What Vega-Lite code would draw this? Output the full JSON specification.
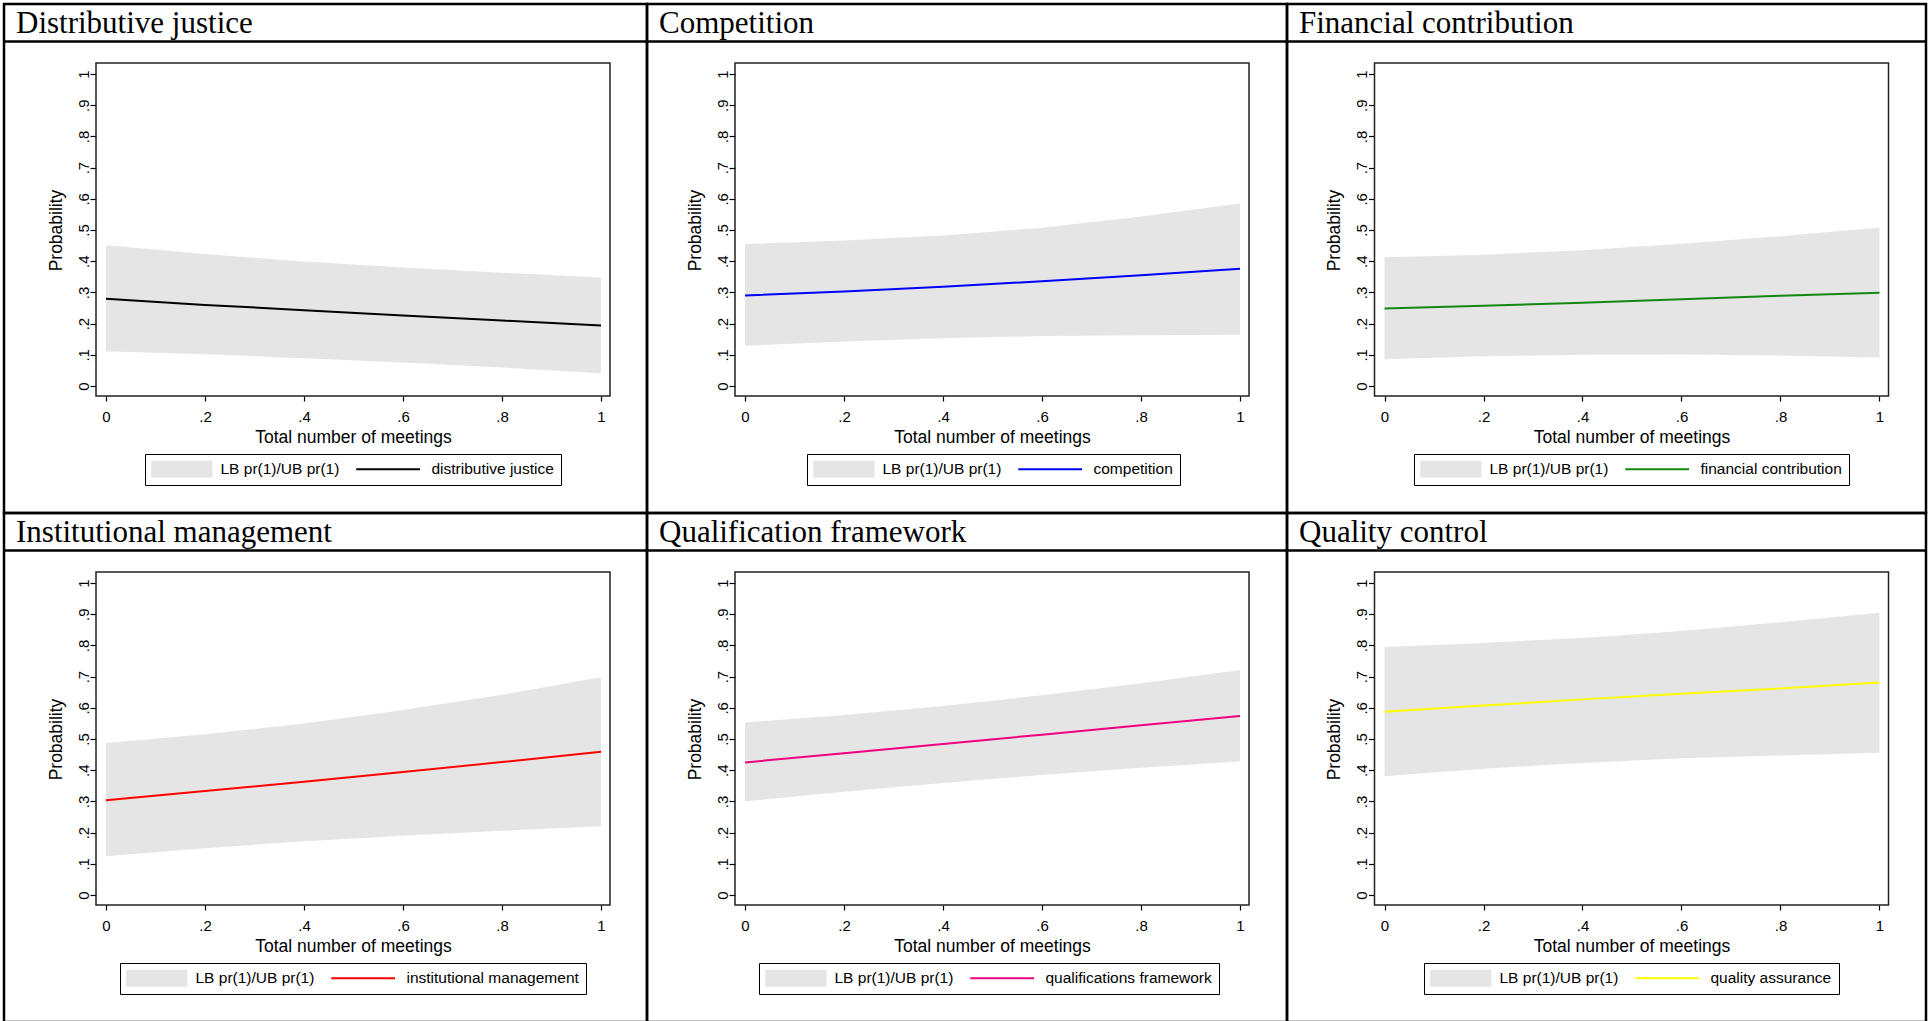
{
  "$schema": "https://vega.github.io/schema/vega-lite/v6.json",
  "background": "white",
  "padding": {"left": 1, "top": 2, "right": 0, "bottom": 0},
  "data": {"values": [
    {"panel": "P1", "x": 0, "lo": 0.111, "p": 0.280, "hi": 0.451},
    {"panel": "P1", "x": 0.2, "lo": 0.102, "p": 0.260, "hi": 0.423},
    {"panel": "P1", "x": 0.4, "lo": 0.089, "p": 0.243, "hi": 0.399},
    {"panel": "P1", "x": 0.6, "lo": 0.075, "p": 0.226, "hi": 0.380},
    {"panel": "P1", "x": 0.8, "lo": 0.059, "p": 0.210, "hi": 0.363},
    {"panel": "P1", "x": 1, "lo": 0.041, "p": 0.194, "hi": 0.348},
    {"panel": "P2", "x": 0, "lo": 0.129, "p": 0.290, "hi": 0.455},
    {"panel": "P2", "x": 0.2, "lo": 0.143, "p": 0.303, "hi": 0.466},
    {"panel": "P2", "x": 0.4, "lo": 0.153, "p": 0.318, "hi": 0.482},
    {"panel": "P2", "x": 0.6, "lo": 0.160, "p": 0.336, "hi": 0.507},
    {"panel": "P2", "x": 0.8, "lo": 0.163, "p": 0.355, "hi": 0.543},
    {"panel": "P2", "x": 1, "lo": 0.164, "p": 0.376, "hi": 0.585},
    {"panel": "P3", "x": 0, "lo": 0.086, "p": 0.248, "hi": 0.413},
    {"panel": "P3", "x": 0.2, "lo": 0.095, "p": 0.257, "hi": 0.421},
    {"panel": "P3", "x": 0.4, "lo": 0.100, "p": 0.267, "hi": 0.435},
    {"panel": "P3", "x": 0.6, "lo": 0.101, "p": 0.278, "hi": 0.456},
    {"panel": "P3", "x": 0.8, "lo": 0.098, "p": 0.289, "hi": 0.480},
    {"panel": "P3", "x": 1, "lo": 0.091, "p": 0.299, "hi": 0.508},
    {"panel": "P4", "x": 0, "lo": 0.124, "p": 0.304, "hi": 0.487},
    {"panel": "P4", "x": 0.2, "lo": 0.150, "p": 0.333, "hi": 0.515},
    {"panel": "P4", "x": 0.4, "lo": 0.172, "p": 0.363, "hi": 0.550},
    {"panel": "P4", "x": 0.6, "lo": 0.190, "p": 0.394, "hi": 0.593},
    {"panel": "P4", "x": 0.8, "lo": 0.206, "p": 0.426, "hi": 0.642},
    {"panel": "P4", "x": 1, "lo": 0.220, "p": 0.459, "hi": 0.698},
    {"panel": "P5", "x": 0, "lo": 0.300, "p": 0.425, "hi": 0.553},
    {"panel": "P5", "x": 0.2, "lo": 0.331, "p": 0.454, "hi": 0.577},
    {"panel": "P5", "x": 0.4, "lo": 0.359, "p": 0.484, "hi": 0.606},
    {"panel": "P5", "x": 0.6, "lo": 0.385, "p": 0.514, "hi": 0.640},
    {"panel": "P5", "x": 0.8, "lo": 0.408, "p": 0.544, "hi": 0.679},
    {"panel": "P5", "x": 1, "lo": 0.428, "p": 0.574, "hi": 0.721},
    {"panel": "P6", "x": 0, "lo": 0.381, "p": 0.587, "hi": 0.795},
    {"panel": "P6", "x": 0.2, "lo": 0.405, "p": 0.607, "hi": 0.808},
    {"panel": "P6", "x": 0.4, "lo": 0.423, "p": 0.627, "hi": 0.824},
    {"panel": "P6", "x": 0.6, "lo": 0.438, "p": 0.645, "hi": 0.846},
    {"panel": "P6", "x": 0.8, "lo": 0.447, "p": 0.662, "hi": 0.874},
    {"panel": "P6", "x": 1, "lo": 0.456, "p": 0.681, "hi": 0.905}
  ]},
  "concat": [
        {
          "width": 643, "height": 509,
          "layer": [
            {
              "transform": [{"filter": "datum.panel === 'P1'"}],
              "mark": {"type": "area"},
              "encoding": {
                "x": {"field": "x", "type": "quantitative", "scale": {"domain": [-0.20606, 1.09293], "nice": false, "zero": false},
                      "axis": {"offset": -117, "values": [0, 0.2, 0.4, 0.6, 0.8, 1], "title": "Total number of meetings", "titleX": 349, "titleY": 41.5}},
                "y": {"field": "lo", "type": "quantitative", "scale": {"domain": [-0.40705, 1.22436], "nice": false, "zero": false},
                      "axis": {"offset": -92, "values": [0, 0.1, 0.2, 0.3, 0.4, 0.5, 0.6, 0.7, 0.8, 0.9, 1], "title": "Probability", "titleX": -40, "titleY": 226}},
                "y2": {"field": "hi"},
                "color": {"datum": "LB pr(1)/UB pr(1)",
                          "scale": {"domain": ["LB pr(1)/UB pr(1)", "distributive justice"], "range": ["#e5e5e5", "#000000"]},
                          "legend": {"title": null, "legendX": 141, "legendY": 450,
                                     "encode": {"symbols": {"update": {
                                       "shape": {"signal": "datum.value === 'LB pr(1)/UB pr(1)' ? 'M-1,-1H6.2V1H-1Z' : 'M-1,0H6.5'"},
                                       "fill": {"signal": "datum.value === 'LB pr(1)/UB pr(1)' ? '#e5e5e5' : 'transparent'"},
                                       "stroke": {"signal": "datum.value === 'LB pr(1)/UB pr(1)' ? 'transparent' : '#000000'"},
                                       "strokeWidth": {"signal": "datum.value === 'LB pr(1)/UB pr(1)' ? 0 : 2"}}},
                                       "labels": {"update": {"dx": {"signal": "datum.value === 'LB pr(1)/UB pr(1)' ? 0 : 6"}}}}}}
              }
            },
            {
              "transform": [{"filter": "datum.panel === 'P1'"}],
              "mark": {"type": "line", "strokeWidth": 2},
              "encoding": {"x": {"field": "x", "type": "quantitative"}, "y": {"field": "p", "type": "quantitative"}, "color": {"datum": "distributive justice"}}
            },
            {
              "data": {"values": [{}]},
              "mark": {"type": "rect", "fillOpacity": 0, "stroke": "#222222", "strokeWidth": 1.5},
              "encoding": {"x": {"datum": -0.0202}, "x2": {"datum": 1.0182}, "y": {"datum": -0.0321}, "y2": {"datum": 1.0353}}
            },
            {
              "data": {"values": [{}]},
              "mark": {"type": "rule", "stroke": "black", "strokeWidth": 2.5},
              "encoding": {"y": {"datum": 1.1042}}
            },
            {
              "data": {"values": [{"t": "Distributive justice"}]},
              "mark": {"type": "text", "font": "Liberation Serif", "fontSize": 31, "align": "left", "baseline": "alphabetic", "color": "black"},
              "encoding": {"x": {"datum": -0.18182}, "y": {"datum": 1.1330}, "text": {"field": "t"}}
            }
          ]
        },
        {
          "width": 640, "height": 509,
          "layer": [
            {
              "transform": [{"filter": "datum.panel === 'P2'"}],
              "mark": {"type": "area"},
              "encoding": {
                "x": {"field": "x", "type": "quantitative", "scale": {"domain": [-0.19798, 1.09495], "nice": false, "zero": false},
                      "axis": {"offset": -117, "values": [0, 0.2, 0.4, 0.6, 0.8, 1], "title": "Total number of meetings", "titleX": 345, "titleY": 41.5}},
                "y": {"field": "lo", "type": "quantitative", "scale": {"domain": [-0.40705, 1.22436], "nice": false, "zero": false},
                      "axis": {"offset": -88, "values": [0, 0.1, 0.2, 0.3, 0.4, 0.5, 0.6, 0.7, 0.8, 0.9, 1], "title": "Probability", "titleX": -40, "titleY": 226}},
                "y2": {"field": "hi"},
                "color": {"datum": "LB pr(1)/UB pr(1)",
                          "scale": {"domain": ["LB pr(1)/UB pr(1)", "competition"], "range": ["#e5e5e5", "#0000ff"]},
                          "legend": {"title": null, "legendX": 160, "legendY": 450,
                                     "encode": {"symbols": {"update": {
                                       "shape": {"signal": "datum.value === 'LB pr(1)/UB pr(1)' ? 'M-1,-1H6.2V1H-1Z' : 'M-1,0H6.5'"},
                                       "fill": {"signal": "datum.value === 'LB pr(1)/UB pr(1)' ? '#e5e5e5' : 'transparent'"},
                                       "stroke": {"signal": "datum.value === 'LB pr(1)/UB pr(1)' ? 'transparent' : '#0000ff'"},
                                       "strokeWidth": {"signal": "datum.value === 'LB pr(1)/UB pr(1)' ? 0 : 2"}}},
                                       "labels": {"update": {"dx": {"signal": "datum.value === 'LB pr(1)/UB pr(1)' ? 0 : 6"}}}}}}
              }
            },
            {
              "transform": [{"filter": "datum.panel === 'P2'"}],
              "mark": {"type": "line", "strokeWidth": 2},
              "encoding": {"x": {"field": "x", "type": "quantitative"}, "y": {"field": "p", "type": "quantitative"}, "color": {"datum": "competition"}}
            },
            {
              "data": {"values": [{}]},
              "mark": {"type": "rect", "fillOpacity": 0, "stroke": "#222222", "strokeWidth": 1.5},
              "encoding": {"x": {"datum": -0.0202}, "x2": {"datum": 1.0182}, "y": {"datum": -0.0321}, "y2": {"datum": 1.0353}}
            },
            {
              "data": {"values": [{}]},
              "mark": {"type": "rule", "stroke": "black", "strokeWidth": 2.5},
              "encoding": {"y": {"datum": 1.1042}}
            },
            {
              "data": {"values": [{"t": "Competition"}]},
              "mark": {"type": "text", "font": "Liberation Serif", "fontSize": 31, "align": "left", "baseline": "alphabetic", "color": "black"},
              "encoding": {"x": {"datum": -0.17374}, "y": {"datum": 1.1330}, "text": {"field": "t"}}
            }
          ]
        },
        {
          "width": 639, "height": 509,
          "layer": [
            {
              "transform": [{"filter": "datum.panel === 'P3'"}],
              "mark": {"type": "area"},
              "encoding": {
                "x": {"field": "x", "type": "quantitative", "scale": {"domain": [-0.19697, 1.09394], "nice": false, "zero": false},
                      "axis": {"offset": -117, "values": [0, 0.2, 0.4, 0.6, 0.8, 1], "title": "Total number of meetings", "titleX": 344.5, "titleY": 41.5}},
                "y": {"field": "lo", "type": "quantitative", "scale": {"domain": [-0.40705, 1.22436], "nice": false, "zero": false},
                      "axis": {"offset": -87.5, "values": [0, 0.1, 0.2, 0.3, 0.4, 0.5, 0.6, 0.7, 0.8, 0.9, 1], "title": "Probability", "titleX": -40, "titleY": 226}},
                "y2": {"field": "hi"},
                "color": {"datum": "LB pr(1)/UB pr(1)",
                          "scale": {"domain": ["LB pr(1)/UB pr(1)", "financial contribution"], "range": ["#e5e5e5", "#118811"]},
                          "legend": {"title": null, "legendX": 127, "legendY": 450,
                                     "encode": {"symbols": {"update": {
                                       "shape": {"signal": "datum.value === 'LB pr(1)/UB pr(1)' ? 'M-1,-1H6.2V1H-1Z' : 'M-1,0H6.5'"},
                                       "fill": {"signal": "datum.value === 'LB pr(1)/UB pr(1)' ? '#e5e5e5' : 'transparent'"},
                                       "stroke": {"signal": "datum.value === 'LB pr(1)/UB pr(1)' ? 'transparent' : '#118811'"},
                                       "strokeWidth": {"signal": "datum.value === 'LB pr(1)/UB pr(1)' ? 0 : 2"}}},
                                       "labels": {"update": {"dx": {"signal": "datum.value === 'LB pr(1)/UB pr(1)' ? 0 : 6"}}}}}}
              }
            },
            {
              "transform": [{"filter": "datum.panel === 'P3'"}],
              "mark": {"type": "line", "strokeWidth": 2},
              "encoding": {"x": {"field": "x", "type": "quantitative"}, "y": {"field": "p", "type": "quantitative"}, "color": {"datum": "financial contribution"}}
            },
            {
              "data": {"values": [{}]},
              "mark": {"type": "rect", "fillOpacity": 0, "stroke": "#222222", "strokeWidth": 1.5},
              "encoding": {"x": {"datum": -0.0202}, "x2": {"datum": 1.0182}, "y": {"datum": -0.0321}, "y2": {"datum": 1.0353}}
            },
            {
              "data": {"values": [{}]},
              "mark": {"type": "rule", "stroke": "black", "strokeWidth": 2.5},
              "encoding": {"y": {"datum": 1.1042}}
            },
            {
              "data": {"values": [{"t": "Financial contribution"}]},
              "mark": {"type": "text", "font": "Liberation Serif", "fontSize": 31, "align": "left", "baseline": "alphabetic", "color": "black"},
              "encoding": {"x": {"datum": -0.17273}, "y": {"datum": 1.1330}, "text": {"field": "t"}}
            }
          ]
        },
        {
          "width": 643, "height": 509,
          "layer": [
            {
              "transform": [{"filter": "datum.panel === 'P4'"}],
              "mark": {"type": "area"},
              "encoding": {
                "x": {"field": "x", "type": "quantitative", "scale": {"domain": [-0.20606, 1.09293], "nice": false, "zero": false},
                      "axis": {"offset": -117, "values": [0, 0.2, 0.4, 0.6, 0.8, 1], "title": "Total number of meetings", "titleX": 349, "titleY": 41.5}},
                "y": {"field": "lo", "type": "quantitative", "scale": {"domain": [-0.40705, 1.22436], "nice": false, "zero": false},
                      "axis": {"offset": -92, "values": [0, 0.1, 0.2, 0.3, 0.4, 0.5, 0.6, 0.7, 0.8, 0.9, 1], "title": "Probability", "titleX": -40, "titleY": 226}},
                "y2": {"field": "hi"},
                "color": {"datum": "LB pr(1)/UB pr(1)",
                          "scale": {"domain": ["LB pr(1)/UB pr(1)", "institutional management"], "range": ["#e5e5e5", "#ff0000"]},
                          "legend": {"title": null, "legendX": 116, "legendY": 450,
                                     "encode": {"symbols": {"update": {
                                       "shape": {"signal": "datum.value === 'LB pr(1)/UB pr(1)' ? 'M-1,-1H6.2V1H-1Z' : 'M-1,0H6.5'"},
                                       "fill": {"signal": "datum.value === 'LB pr(1)/UB pr(1)' ? '#e5e5e5' : 'transparent'"},
                                       "stroke": {"signal": "datum.value === 'LB pr(1)/UB pr(1)' ? 'transparent' : '#ff0000'"},
                                       "strokeWidth": {"signal": "datum.value === 'LB pr(1)/UB pr(1)' ? 0 : 2"}}},
                                       "labels": {"update": {"dx": {"signal": "datum.value === 'LB pr(1)/UB pr(1)' ? 0 : 6"}}}}}}
              }
            },
            {
              "transform": [{"filter": "datum.panel === 'P4'"}],
              "mark": {"type": "line", "strokeWidth": 2},
              "encoding": {"x": {"field": "x", "type": "quantitative"}, "y": {"field": "p", "type": "quantitative"}, "color": {"datum": "institutional management"}}
            },
            {
              "data": {"values": [{}]},
              "mark": {"type": "rect", "fillOpacity": 0, "stroke": "#222222", "strokeWidth": 1.5},
              "encoding": {"x": {"datum": -0.0202}, "x2": {"datum": 1.0182}, "y": {"datum": -0.0321}, "y2": {"datum": 1.0353}}
            },
            {
              "data": {"values": [{}]},
              "mark": {"type": "rule", "stroke": "black", "strokeWidth": 2.5},
              "encoding": {"y": {"datum": 1.1042}}
            },
            {
              "data": {"values": [{"t": "Institutional management"}]},
              "mark": {"type": "text", "font": "Liberation Serif", "fontSize": 31, "align": "left", "baseline": "alphabetic", "color": "black"},
              "encoding": {"x": {"datum": -0.18182}, "y": {"datum": 1.1330}, "text": {"field": "t"}}
            }
          ]
        },
        {
          "width": 640, "height": 509,
          "layer": [
            {
              "transform": [{"filter": "datum.panel === 'P5'"}],
              "mark": {"type": "area"},
              "encoding": {
                "x": {"field": "x", "type": "quantitative", "scale": {"domain": [-0.19798, 1.09495], "nice": false, "zero": false},
                      "axis": {"offset": -117, "values": [0, 0.2, 0.4, 0.6, 0.8, 1], "title": "Total number of meetings", "titleX": 345, "titleY": 41.5}},
                "y": {"field": "lo", "type": "quantitative", "scale": {"domain": [-0.40705, 1.22436], "nice": false, "zero": false},
                      "axis": {"offset": -88, "values": [0, 0.1, 0.2, 0.3, 0.4, 0.5, 0.6, 0.7, 0.8, 0.9, 1], "title": "Probability", "titleX": -40, "titleY": 226}},
                "y2": {"field": "hi"},
                "color": {"datum": "LB pr(1)/UB pr(1)",
                          "scale": {"domain": ["LB pr(1)/UB pr(1)", "qualifications framework"], "range": ["#e5e5e5", "#f0007f"]},
                          "legend": {"title": null, "legendX": 112, "legendY": 450,
                                     "encode": {"symbols": {"update": {
                                       "shape": {"signal": "datum.value === 'LB pr(1)/UB pr(1)' ? 'M-1,-1H6.2V1H-1Z' : 'M-1,0H6.5'"},
                                       "fill": {"signal": "datum.value === 'LB pr(1)/UB pr(1)' ? '#e5e5e5' : 'transparent'"},
                                       "stroke": {"signal": "datum.value === 'LB pr(1)/UB pr(1)' ? 'transparent' : '#f0007f'"},
                                       "strokeWidth": {"signal": "datum.value === 'LB pr(1)/UB pr(1)' ? 0 : 2"}}},
                                       "labels": {"update": {"dx": {"signal": "datum.value === 'LB pr(1)/UB pr(1)' ? 0 : 6"}}}}}}
              }
            },
            {
              "transform": [{"filter": "datum.panel === 'P5'"}],
              "mark": {"type": "line", "strokeWidth": 2},
              "encoding": {"x": {"field": "x", "type": "quantitative"}, "y": {"field": "p", "type": "quantitative"}, "color": {"datum": "qualifications framework"}}
            },
            {
              "data": {"values": [{}]},
              "mark": {"type": "rect", "fillOpacity": 0, "stroke": "#222222", "strokeWidth": 1.5},
              "encoding": {"x": {"datum": -0.0202}, "x2": {"datum": 1.0182}, "y": {"datum": -0.0321}, "y2": {"datum": 1.0353}}
            },
            {
              "data": {"values": [{}]},
              "mark": {"type": "rule", "stroke": "black", "strokeWidth": 2.5},
              "encoding": {"y": {"datum": 1.1042}}
            },
            {
              "data": {"values": [{"t": "Qualification framework"}]},
              "mark": {"type": "text", "font": "Liberation Serif", "fontSize": 31, "align": "left", "baseline": "alphabetic", "color": "black"},
              "encoding": {"x": {"datum": -0.17374}, "y": {"datum": 1.1330}, "text": {"field": "t"}}
            }
          ]
        },
        {
          "width": 639, "height": 509,
          "layer": [
            {
              "transform": [{"filter": "datum.panel === 'P6'"}],
              "mark": {"type": "area"},
              "encoding": {
                "x": {"field": "x", "type": "quantitative", "scale": {"domain": [-0.19697, 1.09394], "nice": false, "zero": false},
                      "axis": {"offset": -117, "values": [0, 0.2, 0.4, 0.6, 0.8, 1], "title": "Total number of meetings", "titleX": 344.5, "titleY": 41.5}},
                "y": {"field": "lo", "type": "quantitative", "scale": {"domain": [-0.40705, 1.22436], "nice": false, "zero": false},
                      "axis": {"offset": -87.5, "values": [0, 0.1, 0.2, 0.3, 0.4, 0.5, 0.6, 0.7, 0.8, 0.9, 1], "title": "Probability", "titleX": -40, "titleY": 226}},
                "y2": {"field": "hi"},
                "color": {"datum": "LB pr(1)/UB pr(1)",
                          "scale": {"domain": ["LB pr(1)/UB pr(1)", "quality assurance"], "range": ["#e5e5e5", "#ffff00"]},
                          "legend": {"title": null, "legendX": 137, "legendY": 450,
                                     "encode": {"symbols": {"update": {
                                       "shape": {"signal": "datum.value === 'LB pr(1)/UB pr(1)' ? 'M-1,-1H6.2V1H-1Z' : 'M-1,0H6.5'"},
                                       "fill": {"signal": "datum.value === 'LB pr(1)/UB pr(1)' ? '#e5e5e5' : 'transparent'"},
                                       "stroke": {"signal": "datum.value === 'LB pr(1)/UB pr(1)' ? 'transparent' : '#ffff00'"},
                                       "strokeWidth": {"signal": "datum.value === 'LB pr(1)/UB pr(1)' ? 0 : 2"}}},
                                       "labels": {"update": {"dx": {"signal": "datum.value === 'LB pr(1)/UB pr(1)' ? 0 : 6"}}}}}}
              }
            },
            {
              "transform": [{"filter": "datum.panel === 'P6'"}],
              "mark": {"type": "line", "strokeWidth": 2},
              "encoding": {"x": {"field": "x", "type": "quantitative"}, "y": {"field": "p", "type": "quantitative"}, "color": {"datum": "quality assurance"}}
            },
            {
              "data": {"values": [{}]},
              "mark": {"type": "rect", "fillOpacity": 0, "stroke": "#222222", "strokeWidth": 1.5},
              "encoding": {"x": {"datum": -0.0202}, "x2": {"datum": 1.0182}, "y": {"datum": -0.0321}, "y2": {"datum": 1.0353}}
            },
            {
              "data": {"values": [{}]},
              "mark": {"type": "rule", "stroke": "black", "strokeWidth": 2.5},
              "encoding": {"y": {"datum": 1.1042}}
            },
            {
              "data": {"values": [{"t": "Quality control"}]},
              "mark": {"type": "text", "font": "Liberation Serif", "fontSize": 31, "align": "left", "baseline": "alphabetic", "color": "black"},
              "encoding": {"x": {"datum": -0.17273}, "y": {"datum": 1.1330}, "text": {"field": "t"}}
            }
          ]
        }
  ],
  "columns": 3,
  "spacing": 0,
  "align": "each",
  "bounds": "flush",
  "resolve": {"scale": {"color": "independent"}, "legend": {"color": "independent"}},
  "config": {
    "view": {"stroke": "black", "strokeWidth": 2.5},
    "font": "Liberation Sans",
    "axis": {
      "domain": false, "grid": false,
      "tickColor": "black", "tickWidth": 1.2,
      "labelColor": "black", "labelFont": "Liberation Sans", "labelFontSize": 15,
      "labelOverlap": false, "labelFlush": false,
      "labelExpr": "datum.value == 0 ? '0' : datum.value == 1 ? '1' : '.' + format(datum.value * 10, '.0f')",
      "titleFont": "Liberation Sans", "titleFontSize": 17.5, "titleFontWeight": "normal", "titleColor": "black",
      "titleBaseline": "middle", "titleAlign": "center"
    },
    "axisX": {"tickSize": 5, "labelPadding": 8, "labelAngle": 0},
    "axisY": {"tickSize": 6, "labelPadding": -1, "labelAngle": 270, "labelAlign": "center", "labelBaseline": "bottom", "titleAngle": 270},
    "legend": {
      "orient": "none", "direction": "horizontal",
      "strokeColor": "black", "padding": 7,
      "symbolSize": 289, "symbolStrokeWidth": 0, "symbolOpacity": 1,
      "labelOffset": 53, "columnPadding": 12, "labelLimit": 0,
      "labelFont": "Liberation Sans", "labelFontSize": 15.5, "labelColor": "black"
    }
  }
}
